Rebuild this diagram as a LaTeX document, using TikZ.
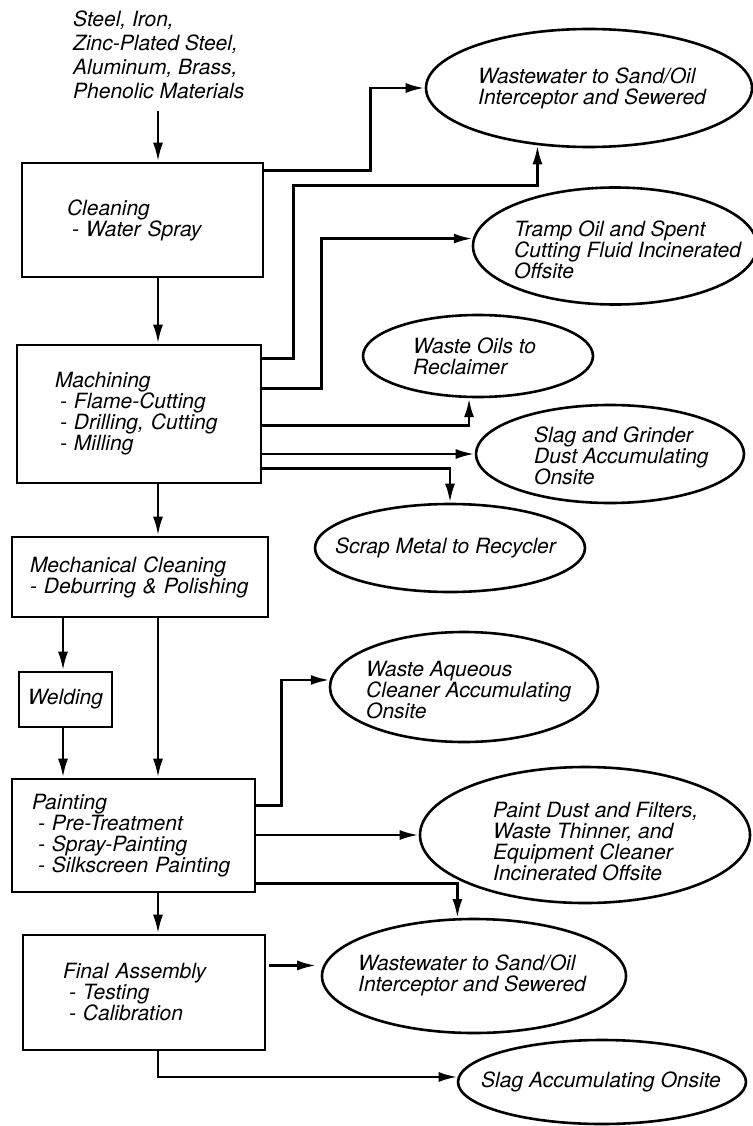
\documentclass[tikz,border=0pt]{standalone}
\usepackage{fontspec}
\setmainfont{TeX Gyre Heros}
\usetikzlibrary{arrows.meta,calc,shapes.geometric}

\begin{document}
\begin{tikzpicture}[x=1pt,y=-1pt,font=\fontsize{21}{21}\selectfont\itshape]
    \tikzstyle{stage}=[draw,rectangle,line width=2.6pt,align=left,inner ysep=0pt]
    \tikzstyle{waste}=[draw,ellipse,line width=2.6pt,inner sep=0pt]
    \tikzstyle{note}=[anchor=west,align=left,inner sep=0pt]
    \tikzstyle{flow}=[line width=2.8pt,-{Latex[length=19pt,width=10pt]}]
    \useasboundingbox (0,0) rectangle (752,1126);
    \coordinate (ax) at (158,0);
    \coordinate (wx) at (63,0);

    \node(src)[note,font=\fontsize{21}{24}\selectfont\itshape] at (73,55) {Steel, Iron,\\Zinc-Plated Steel,\\Aluminum, Brass,\\Phenolic Materials};

    \node(clean)[stage,text width=151pt,inner xsep=45pt,minimum height=114pt] at (142.5,220) {Cleaning\\\hspace*{5pt}- Water Spray};
    \node(mach)[stage,text width=168pt,inner xsep=38pt,minimum height=138pt] at (139,414) {Machining\\\hspace*{5pt}- Flame-Cutting\\\hspace*{5pt}- Drilling, Cutting\\\hspace*{5pt}- Milling};
    \node(mech)[stage,text width=220pt,inner xsep=18pt,minimum height=80pt] at (140,577) {Mechanical Cleaning\\- Deburring \& Polishing};
    \node(weld)[stage,minimum width=93pt,minimum height=55pt] at (65.5,699.5) {Welding};
    \node(paint)[stage,text width=203pt,inner xsep=20pt,minimum height=113pt] at (133.5,835.5) {Painting\\\hspace*{6pt}- Pre-Treatment\\\hspace*{6pt}- Spray-Painting\\\hspace*{6pt}- Silkscreen Painting};
    \node(final)[stage,text width=162pt,inner xsep=40pt,minimum height=115pt] at (144,992.5) {Final Assembly\\\hspace*{6pt}- Testing\\\hspace*{6pt}- Calibration};

    \node(w1)[waste,minimum width=326pt,minimum height=118pt] at (589,88) {};
    \node(w2)[waste,minimum width=284pt,minimum height=117pt] at (615,246) {};
    \node(w3)[waste,minimum width=230pt,minimum height=82pt] at (478,356) {};
    \node(w4)[waste,minimum width=268pt,minimum height=98pt] at (610,454) {};
    \node(w5)[waste,minimum width=270pt,minimum height=88pt] at (450,548) {};
    \node(w6)[waste,minimum width=268pt,minimum height=110pt] at (464,687) {};
    \node(w7)[waste,minimum width=330pt,minimum height=136pt] at (585,835) {};
    \node(w8)[waste,minimum width=304pt,minimum height=114pt] at (474,976) {};
    \node(w9)[waste,minimum width=288pt,minimum height=84pt] at (602,1082) {};

    \node(t1)[note] at (478,88) {Wastewater to Sand/Oil\\Interceptor and Sewered};
    \node(t2)[note] at (514,250) {Tramp Oil and Spent\\Cutting Fluid Incinerated\\Offsite};
    \node(t3)[note] at (413,356) {Waste Oils to\\Reclaimer};
    \node(t4)[note] at (534,456) {Slag and Grinder\\Dust Accumulating\\Onsite};
    \node(t5)[note] at (335,548) {Scrap Metal to Recycler};
    \node(t6)[note] at (366,690) {Waste Aqueous\\Cleaner Accumulating\\Onsite};
    \node(t7)[note] at (493,842) {Paint Dust and Filters,\\Waste Thinner, and\\Equipment Cleaner\\Incinerated Offsite};
    \node(t8)[note] at (358,975) {Wastewater to Sand/Oil\\Interceptor and Sewered};
    \node(t9)[note] at (481,1082) {Slag Accumulating Onsite};

    \draw[flow] ($(src.south -| ax)+(0,12)$) -- (clean.north -| ax);
    \draw[flow] (clean.south -| ax) -- (mach.north -| ax);
    \draw[flow] (mach.south -| ax) -- (mech.north -| ax);
    \draw[flow] (mech.south -| wx) -- (weld.north -| wx);
    \draw[flow] (weld.south -| wx) -- (paint.north -| wx);
    \draw[flow] (mech.south -| ax) -- (paint.north -| ax);
    \draw[flow] (paint.south -| ax) -- (final.north -| ax);

    \draw[flow] ([yshift=-9pt]clean.north east) -- ++(106,0) |- (w1.west);
    \draw[flow] ([yshift=-15pt]mach.north east) -- ++(31,0) |- ($(w1.228)+(0,40)$) -- (w1.228);
    \draw[flow] ([yshift=-45pt]mach.north east) -- ++(59,0) |- (w2.177);
    \draw[flow] ([yshift=-82pt]mach.north east) -| (w3.258);
    \draw[flow] (mach.east |- w4.west) -- (w4.west);
    \draw[flow] ([yshift=-125pt]mach.north east) -| (w5.north);
    \draw[flow] ([yshift=-28pt]paint.north east) -- ++(25,0) |- (w6.177);
    \draw[flow] (paint.east |- w7.west) -- (w7.west);
    \draw[flow] ([yshift=-106pt]paint.north east) -| (w8.106);
    \draw[flow,shorten <=3pt,shorten >=7pt] (final.east |- w8.176) -- (w8.176);
    \draw[flow] (final.south -| ax) |- (w9.178);
\end{tikzpicture}
\end{document}
